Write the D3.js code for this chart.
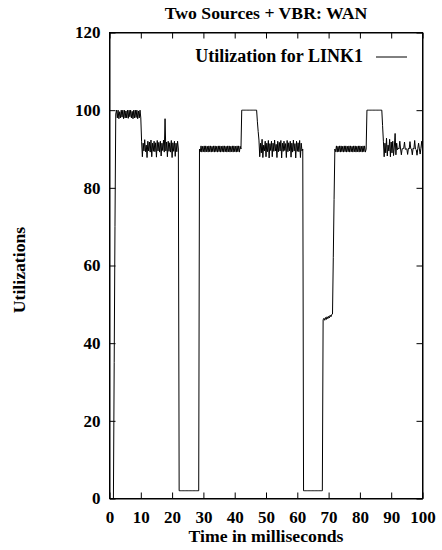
<!DOCTYPE html>
<html>
<head>
<meta charset="utf-8">
<script src="https://cdn.jsdelivr.net/npm/d3@7"></script>
<style>
body { margin: 0; background: #fff; }
svg { display: block; }
text { font-family: "Liberation Serif", "Times New Roman", serif; font-weight: bold; fill: #000; }
</style>
</head>
<body>
<svg id="chart"></svg>
<script>
var W = 442, H = 550;
var left = 109.5, right = 422.5, top_ = 32.5, bottom = 498.5;

var title = "Two Sources + VBR: WAN";
var xLabel = "Time in milliseconds";
var yLabel = "Utilizations";
var seriesName = "Utilization for LINK1";

var xTicks = [0, 10, 20, 30, 40, 50, 60, 70, 80, 90, 100];
var yTicks = [0, 20, 40, 60, 80, 100, 120];

// samples every 0.25 ms, one array per phase of the run
var sampleMs = 0.25;
var phaseStart = [0, 2, 10.25, 22.25, 28.75, 42.25, 47.25, 62, 68.25, 72, 82.25, 87.25];

var idle = [0, 0, 0, 0, 0, 0, 35, 70];
var burst1 = [99, 100, 98, 100, 97.8, 99.6, 98, 100, 98.2, 100,
  97.8, 100, 98, 99.8, 98, 100, 97.9, 100, 98.3, 100,
  98, 99.7, 97.8, 100, 98, 100, 98.1, 100, 97.8, 99.8,
  98, 100, 98];
var share1 = [92, 88, 91.5, 89.5, 92.4, 89.3, 91, 87.8, 92, 89.5,
  91.8, 89.2, 92.3, 88, 91.5, 89.4, 92, 89.3, 91.6, 87.9,
  92.2, 89.5, 91.7, 89.2, 92, 88.2, 91.5, 89.6, 92.3, 89.2,
  97.8, 89.5, 91.8, 88, 92, 89.4, 91.6, 89.2, 92.2, 87.8,
  91.6, 89.4, 92, 88.1, 91.5, 89.3, 92, 90];
var gap1 = [2, 2, 2, 2, 2, 2, 2, 2, 2, 2, 2, 2, 2,
  2, 2, 2, 2, 2, 2, 2, 2, 2, 2, 2, 2, 2];
var steady1 = [90, 89.3, 90.8, 89.2, 90.7, 89.3, 90.8, 89.2, 90.8, 89.3,
  90.7, 89.2, 90.8, 89.3, 90.8, 89.2, 90.7, 89.3, 90.8, 89.2,
  90.8, 89.3, 90.7, 89.2, 90.8, 89.3, 90.8, 89.2, 90.7, 89.3,
  90.8, 89.2, 90.8, 89.3, 90.7, 89.2, 90.8, 89.3, 90.8, 89.2,
  90.7, 89.3, 90.8, 89.2, 90.8, 89.3, 90.7, 89.2, 90.8, 89.3,
  90.8, 89.2, 90.7, 90];
var burst2 = [100, 100, 100, 100, 100, 100, 100, 100, 100, 100,
  100, 100, 100, 100, 100, 100, 100, 100, 100, 100];
var share2 = [97, 94.5, 92.3, 88, 91.5, 89, 92.5, 87.8, 91, 89.5,
  92, 88, 91.5, 89.3, 92.2, 87.7, 91.4, 89.6, 92, 88,
  91.5, 89.4, 92.3, 89.5, 91.2, 87.8, 92, 89.3, 91.7, 89.5,
  92.2, 87.7, 91.5, 89.4, 92, 89.6, 91.4, 87.8, 92.2, 89.3,
  91.6, 89.5, 92, 87.9, 91.5, 89.2, 92.3, 89.5, 91.4, 87.7,
  92, 89.4, 91.6, 89.3, 92.2, 87.8, 91.5, 89.5, 90];
var gap2 = [2, 2, 2, 2, 2, 2, 2, 2, 2, 2, 2, 2, 2,
  2, 2, 2, 2, 2, 2, 2, 2, 2, 2, 2, 2];
var half = [46, 46.4, 45.9, 46.6, 46.1, 46.8, 46.3, 46.9, 46.5, 47.2,
  46.8, 47.4, 47.5, 62, 77];
var steady2 = [90, 89.3, 90.8, 89.2, 90.7, 89.3, 90.8, 89.2, 90.8, 89.3,
  90.7, 89.2, 90.8, 89.3, 90.8, 89.2, 90.7, 89.3, 90.8, 89.2,
  90.8, 89.3, 90.7, 89.2, 90.8, 89.3, 90.8, 89.2, 90.7, 89.3,
  90.8, 89.2, 90.8, 89.3, 90.7, 89.2, 90.8, 89.3, 90.8, 89.2,
  90];
var burst3 = [100, 100, 100, 100, 100, 100, 100, 100, 100, 100,
  100, 100, 100, 100, 100, 100, 100, 100, 100, 100];
var share3 = [96, 92, 88, 91.5, 89, 92.8, 88.2, 91, 89.5, 92.5,
  88, 91.8, 89, 92, 88.3, 90.5, 94, 88.5, 91.5, 89.8,
  90.2, 90, 92, 90, 88.5, 90.1, 90, 90.2, 91.8, 89.9,
  90.1, 90, 88.6, 90.2, 90, 91.9, 90.1, 90, 88.5, 90.2,
  90, 92.2, 90, 89.8, 88.4, 90.1, 91.5, 90, 88.7, 90.2,
  92, 90];

var phases = [idle, burst1, share1, gap1, steady1, burst2, share2, gap2, half, steady2, burst3, share3];

var points = [];
phases.forEach(function(vals, p){
	vals.forEach(function(v, i){
		points.push([phaseStart[p] + i*sampleMs, v]);
	});
});

var svg = d3.select("#chart").attr("width", W).attr("height", H);

var x = d3.scaleLinear().domain([0, 100]).range([left, right]);
var y = d3.scaleLinear().domain([0, 120]).range([bottom, top_]);

// data line
var line = d3.line().x(function(d){ return x(d[0]); }).y(function(d){ return y(d[1]); });
svg.append("path").datum(points)
	.attr("d", line)
	.attr("fill", "none")
	.attr("stroke", "#000")
	.attr("stroke-width", 1);

// axes, ticks pointing inward on all four sides
var xAxis = svg.append("g").attr("transform", "translate(0," + bottom + ")")
	.call(d3.axisBottom(x).tickValues(xTicks).tickSizeInner(-6).tickSizeOuter(0));
xAxis.selectAll("text").attr("y", 24).attr("dy", 0);

var yAxis = svg.append("g").attr("transform", "translate(" + left + ",0)")
	.call(d3.axisLeft(y).tickValues(yTicks).tickSizeInner(-6).tickSizeOuter(0).tickPadding(9));

svg.append("g").attr("transform", "translate(0," + top_ + ")")
	.call(d3.axisTop(x).tickValues(xTicks).tickSizeInner(-6).tickSizeOuter(0).tickFormat(""));
svg.append("g").attr("transform", "translate(" + right + ",0)")
	.call(d3.axisRight(y).tickValues(yTicks).tickSizeInner(-6).tickSizeOuter(0).tickFormat(""));

svg.selectAll(".tick text").style("font-size", "17px").style("font-family", null);
svg.selectAll(".domain").attr("stroke", "#000");
svg.selectAll(".tick line").attr("stroke", "#000");

svg.append("rect")
	.attr("x", left).attr("y", top_)
	.attr("width", right - left).attr("height", bottom - top_)
	.attr("fill", "none").attr("stroke", "#000");

// titles
svg.append("text").attr("x", 266).attr("y", 19)
	.attr("text-anchor", "middle").style("font-size", "17.7px").text(title);
svg.append("text").attr("x", 266).attr("y", 542)
	.attr("text-anchor", "middle").style("font-size", "17.7px").text(xLabel);
svg.append("text").attr("transform", "translate(25,270) rotate(-90)")
	.attr("text-anchor", "middle").style("font-size", "17.7px").text(yLabel);

// legend
svg.append("text").attr("x", 363).attr("y", 62)
	.attr("text-anchor", "end").style("font-size", "18px").text(seriesName);
svg.append("line").attr("x1", 376).attr("x2", 407).attr("y1", 57).attr("y2", 57)
	.attr("stroke", "#000").attr("stroke-width", 1);
</script>
</body>
</html>
